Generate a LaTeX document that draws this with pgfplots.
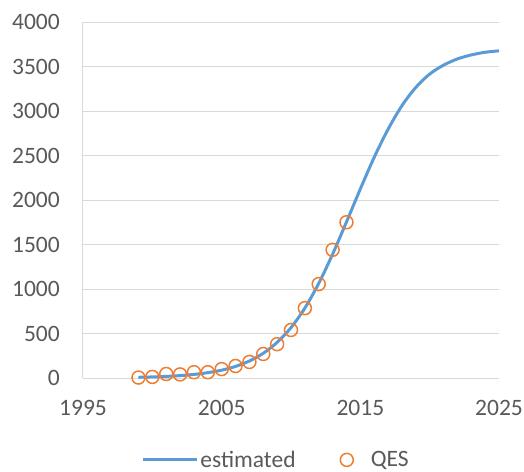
\documentclass[border=0pt]{standalone}
\usepackage{pgfplots}
\pgfplotsset{compat=1.18}
\usepackage{fontspec}
\setmainfont{Carlito}
\definecolor{exblue}{HTML}{5B9BD5}
\definecolor{exorange}{HTML}{ED7D31}
\definecolor{txtgray}{HTML}{595959}
\definecolor{gridgray}{HTML}{D9D9D9}
\begin{document}
\begin{tikzpicture}
\path[use as bounding box] (-83bp,-94bp) rectangle (441bp,378bp);
\begin{axis}[
  at={(0,0)}, anchor=south west,
  scale only axis, width=416bp, height=356bp,
  xmin=1995, xmax=2025, ymin=0, ymax=4000,
  xtick={1995,2005,2015,2025},
  ytick={0,500,...,4000},
  /pgf/number format/1000 sep={},
  /pgf/number format/assume math mode=true,
  axis lines*=left,
  axis line style={draw=gridgray, line width=1bp},
  ymajorgrids, grid style={draw=gridgray, line width=1bp},
  major tick length=0pt,
  tick label style={font=\fontsize{23.5bp}{28bp}\selectfont, text=txtgray},
  yticklabel style={inner sep=0pt, anchor=east, xshift=-23bp},
  xticklabel style={inner sep=0pt, anchor=north, yshift=-22bp},
  legend style={at={(0.464,-0.23)}, anchor=center, draw=none, fill=none,
    font=\fontsize{23.5bp}{28bp}\selectfont, text=txtgray,
    legend columns=2, /tikz/every even column/.append style={column sep=42bp}},
  legend cell align=left,
]
\addplot[exblue, line width=3bp, smooth, no marks,
  legend image code/.code={\draw[exblue, line width=3bp] (0bp,0bp) -- (54bp,0bp);}]
  coordinates {
  (1999,8) (2000,12) (2001,18) (2002,27) (2003,40) (2004,60) (2005,88)
  (2006,130) (2007,191) (2008,278) (2009,400) (2010,566) (2011,786)
  (2012,1063) (2013,1391) (2014,1753) (2015,2124) (2016,2480) (2017,2795)
  (2018,3060) (2019,3265) (2020,3415) (2021,3515) (2022,3585) (2023,3630)
  (2024,3660) (2025,3676)};
\addlegendentry{estimated}
\addplot[only marks, mark=o, mark size=6.5bp, mark options={draw=exorange, line width=1.5bp},
  legend image code/.code={\path[draw=none, fill=none] (-6.5bp,-6.5bp) rectangle (22bp,6.5bp);
    \draw[exorange, line width=1.5bp, fill=none] (0bp,0bp) circle (6.5bp);}]
  coordinates {
  (1999,5) (2000,12) (2001,45) (2002,40) (2003,65) (2004,65) (2005,100)
  (2006,135) (2007,180) (2008,270) (2009,380) (2010,540) (2011,785)
  (2012,1055) (2013,1440) (2014,1750)};
\addlegendentry{QES}
\end{axis}
\end{tikzpicture}
\end{document}
